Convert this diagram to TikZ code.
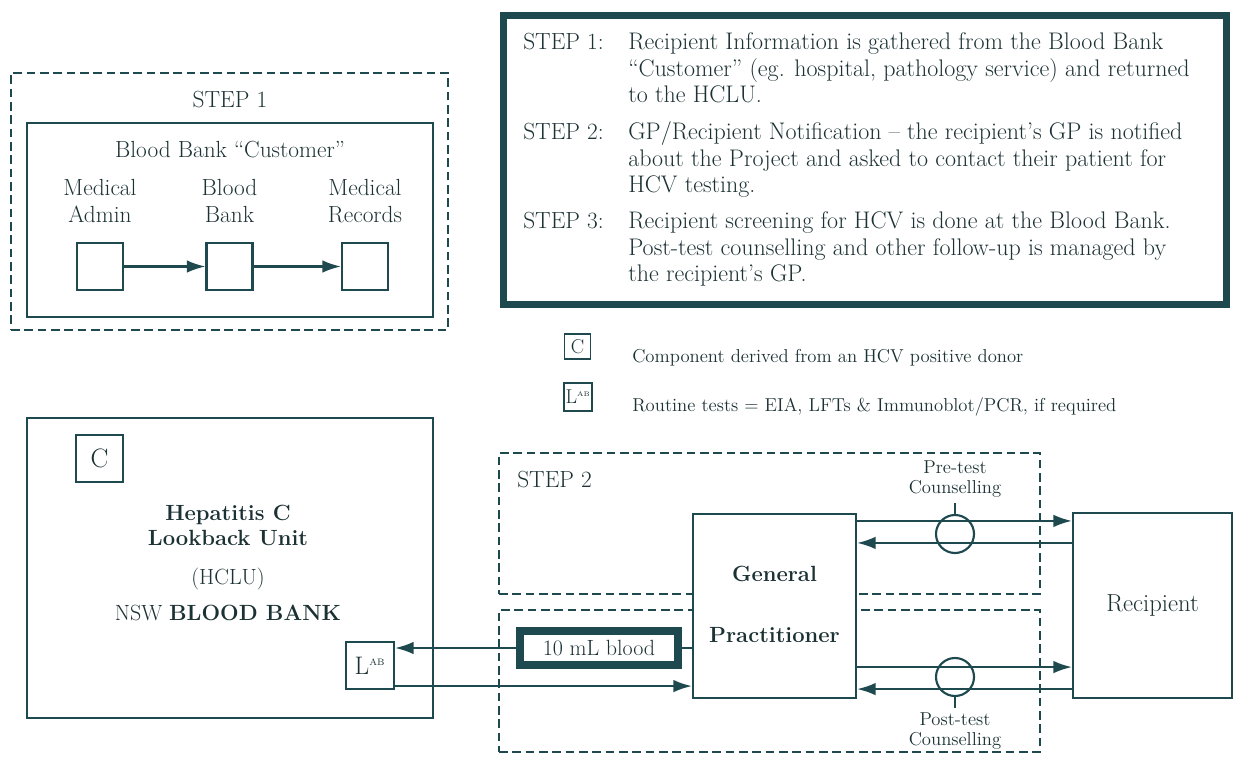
\documentclass[tikz,border=0pt]{standalone}
\usetikzlibrary{arrows.meta,calc}
\definecolor{ink}{HTML}{1E4A4F}
\definecolor{txt}{HTML}{1C3134}
\newcommand\fbig{\fontsize{17.5}{21}\selectfont}
\newcommand\fbody{\fontsize{18}{21}\selectfont}
\newcommand\fbold{\fontsize{16.5}{20}\selectfont\bfseries}
\newcommand\fsmall{\fontsize{14}{17}\selectfont}
\begin{document}
\begin{tikzpicture}[x=0.75pt,y=-0.75pt, every node/.style={text=txt, font=\fbig}]
\useasboundingbox (0,0) rectangle (1234,767);
\tikzset{
 solidbox/.style={draw=ink, line width=1.6pt, inner sep=0pt},
 dashbox/.style={draw=ink, line width=1.6pt, dash pattern=on 6.5pt off 3.5pt, inner sep=0pt},
 arr/.style={draw=ink, line width=1.6pt, -{Latex[length=14pt,width=9.5pt]}},
 conn/.style={draw=ink, line width=1.6pt},
 ln/.style={anchor=base west, inner sep=0pt},
 ctr/.style={anchor=base, inner sep=0pt},
}
% ---------- STEP 1 panel ----------
\node[dashbox, minimum width=327.75pt, minimum height=192.75pt] (s1) at (229.5,201.5) {};
\node[ctr] (s1t) at (230,107) {STEP 1};
\node[solidbox, minimum width=304.5pt, minimum height=145.5pt] (cust) at (230,220) {};
\node[ctr] (custt) at (230,157) {Blood Bank “Customer”};
\node[ctr] (ma1) at (100,195) {Medical};
\node[ctr] (ma2) at (100,222) {Admin};
\node[ctr] (bb1) at (229.5,195) {Blood};
\node[ctr] (bb2) at (229.5,222) {Bank};
\node[ctr] (mr1) at (365,195) {Medical};
\node[ctr] (mr2) at (365,222) {Records};
\node[solidbox, minimum width=34.5pt, minimum height=35.25pt] (b1) at (100,266.5) {};
\node[solidbox, minimum width=34.5pt, minimum height=35.25pt] (b2) at (229.5,266.5) {};
\node[solidbox, minimum width=34.5pt, minimum height=35.25pt] (b3) at (365,266.5) {};
\draw[arr] (b1) -- (b2);
\draw[arr] (b2) -- (b3);
% ---------- info panel ----------
\node[draw=ink, line width=5pt, minimum width=542pt, minimum height=216.75pt, inner sep=0pt] (info) at (865,160) {};
\node[ln] (l1) at (523,50) {STEP 1:};
\node[ln, font=\fbody] (t11) at (628,50) {Recipient Information is gathered from the Blood Bank};
\node[ln, font=\fbody] (t12) at (628,77) {“Customer” (eg. hospital, pathology service) and returned};
\node[ln, font=\fbody] (t13) at (628,103) {to the HCLU.};
\node[ln] (l2) at (523,139) {STEP 2:};
\node[ln, font=\fbody] (t21) at (628,139) {GP/Recipient Notification -- the recipient’s GP is notified};
\node[ln, font=\fbody] (t22) at (628,166) {about the Project and asked to contact their patient for};
\node[ln, font=\fbody] (t23) at (628,192) {HCV testing.};
\node[ln] (l3) at (523,228) {STEP 3:};
\node[ln, font=\fbody] (t31) at (628,228) {Recipient screening for HCV is done at the Blood Bank.};
\node[ln, font=\fbody] (t32) at (628,255) {Post-test counselling and other follow-up is managed by};
\node[ln, font=\fbody] (t33) at (628,281) {the recipient’s GP.};
% ---------- legend ----------
\node[solidbox, line width=1.3pt, minimum width=19.5pt, minimum height=19pt, font=\fontsize{15}{17}\selectfont] (lc) at (577.5,346.5) {C};
\node[solidbox, line width=1.3pt, minimum width=20.5pt, minimum height=20.5pt, font=\fontsize{15}{17}\selectfont] (ll) at (578,397) {L\textsuperscript{\tiny AB}};
\node[ln, font=\fsmall] (lct) at (632,362) {Component derived from an HCV positive donor};
\node[ln, font=\fsmall] (llt) at (632,411) {Routine tests = EIA, LFTs \& Immunoblot/PCR, if required};
% ---------- HCLU ----------
\node[solidbox, minimum width=304.5pt, minimum height=225pt] (hclu) at (230,568) {};
\node[solidbox, minimum width=35.25pt, minimum height=35.25pt, font=\fontsize{20}{22}\selectfont] (hc) at (99.5,458.5) {C};
\node[ctr, font=\fbold] (h1) at (228,520) {Hepatitis C};
\node[ctr, font=\fbold] (h2) at (228,545) {Lookback Unit};
\node[ctr, font=\fontsize{16.5}{20}\selectfont] (h3) at (228,584) {(HCLU)};
\node[ctr, font=\fontsize{16.5}{20}\selectfont] (h4) at (228,620) {NSW \textbf{BLOOD BANK}};
\node[solidbox, minimum width=36pt, minimum height=35.25pt, font=\fontsize{19}{22}\selectfont] (hl) at (370,665.5) {L\textsuperscript{\scriptsize AB}};
% ---------- STEP 2 ----------
\node[dashbox, minimum width=405.75pt, minimum height=105.75pt] (s2a) at (769.5,523.5) {};
\node[dashbox, minimum width=405.75pt, minimum height=106.5pt] (s2b) at (769.5,681) {};
\node[ln] (s2t) at (517,487) {STEP 2};
\node[solidbox, fill=white, minimum width=122.25pt, minimum height=138pt] (gp) at (774.5,606) {};
\node[ctr, font=\fbold] (gp1) at (774.5,581) {General};
\node[ctr, font=\fbold] (gp2) at (774.5,642) {Practitioner};
\node[solidbox, minimum width=119.25pt, minimum height=138.75pt] (rec) at (1152.5,605.5) {};
\node[ctr, font=\fontsize{18.5}{22}\selectfont] (rect) at (1152.5,611) {Recipient};
\node[draw=ink, line width=6pt, fill=white, minimum width=118.5pt, minimum height=25.5pt, inner sep=0pt, font=\fontsize{16.5}{20}\selectfont] (blood) at (599,648) {10 mL blood};
% counselling circles
\node[draw=ink, line width=1.6pt, circle, minimum size=28.5pt, inner sep=0pt] (pre) at (955,534) {};
\node[draw=ink, line width=1.6pt, circle, minimum size=28.5pt, inner sep=0pt] (post) at (955,677) {};
\coordinate (pretop) at (955,503);
\coordinate (postbot) at (955,708);
\draw[conn] (pre.north) -- (pretop);
\draw[conn] (post.south) -- (postbot);
\node[ctr, font=\fsmall] (pl1) at (955,473) {Pre-test};
\node[ctr, font=\fsmall] (pl2) at (955,493) {Counselling};
\node[ctr, font=\fsmall] (ql1) at (955,725) {Post-test};
\node[ctr, font=\fsmall] (ql2) at (955,745) {Counselling};
% GP <-> Recipient
\draw[arr] ([yshift=-6pt]gp.north east) -- ([yshift=-6pt]gp.north east -| rec.west);
\draw[arr] ([yshift=-23.25pt]rec.north west) -- ([yshift=-23.25pt]rec.north west -| gp.east);
\draw[arr] ([yshift=24pt]gp.south east) -- ([yshift=24pt]gp.south east -| rec.west);
\draw[arr] ([yshift=7.5pt]rec.south west) -- ([yshift=7.5pt]rec.south west -| gp.east);
% GP -> blood -> L ; L -> GP
\draw[conn] (gp.west |- blood.east) -- (blood.east);
\draw[arr] (blood.west) -- (blood.west -| hl.east);
\draw[arr] ([yshift=3pt]hl.south east) -- ([yshift=3pt]hl.south east -| gp.west);
\end{tikzpicture}
\end{document}
